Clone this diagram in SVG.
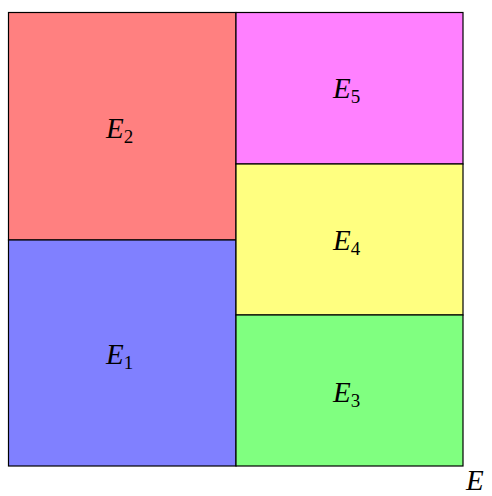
<svg xmlns="http://www.w3.org/2000/svg" width="492" height="496" viewBox="0 0 492 496">
<style>
.box{stroke:#000;stroke-width:1.2}
text{font-family:"Liberation Serif","DejaVu Serif",serif;font-style:italic;font-size:29px;fill:#000}
.sub{font-style:normal;font-size:19px}
</style>
<rect width="492" height="496" fill="#fff"/>
<g id="E2"><rect class="box" x="8.5" y="12.5" width="227.5" height="227.5" fill="#ff8080"/><text x="106" y="138">E<tspan class="sub" dy="5">2</tspan></text></g>
<g id="E1"><rect class="box" x="8.5" y="240" width="227.5" height="226" fill="#8080ff"/><text x="106" y="364">E<tspan class="sub" dy="5">1</tspan></text></g>
<g id="E5"><rect class="box" x="236" y="12.5" width="227" height="151.5" fill="#ff80ff"/><text x="333" y="98">E<tspan class="sub" dy="5">5</tspan></text></g>
<g id="E4"><rect class="box" x="236" y="164" width="227" height="151" fill="#ffff80"/><text x="333" y="250">E<tspan class="sub" dy="5">4</tspan></text></g>
<g id="E3"><rect class="box" x="236" y="315" width="227" height="151" fill="#80ff80"/><text x="333" y="402">E<tspan class="sub" dy="5">3</tspan></text></g>
<g id="E"><text x="466" y="490">E</text></g>
</svg>
